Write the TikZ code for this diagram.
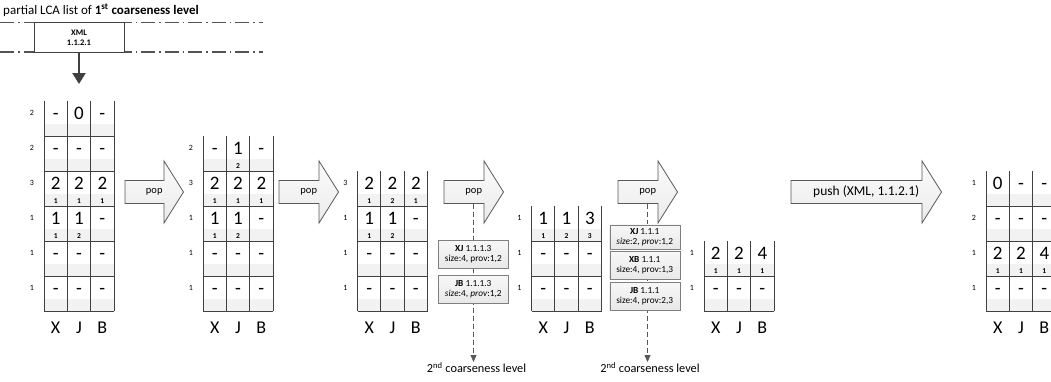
\documentclass[tikz,border=0pt]{standalone}
\usepackage{fontspec}
\setmainfont{Carlito}
\usetikzlibrary{positioning,arrows.meta}
\definecolor{gridgray}{RGB}{64,64,64}
\definecolor{bandgray}{RGB}{242,242,242}
\definecolor{boxgray}{RGB}{127,127,127}
\definecolor{arrowgray}{RGB}{89,89,89}
\tikzset{
  grid line/.style={draw=gridgray, line width=0.9pt},
  band/.style={fill=bandgray},
  row label/.style={font=\fontsize{8}{9}\selectfont, inner sep=0pt, anchor=base},
  cell value/.style={font=\fontsize{19}{20}\selectfont, inner sep=0pt, anchor=base},
  cell sub/.style={font=\fontsize{7.5}{8}\selectfont\bfseries, inner sep=0pt, anchor=base},
  col name/.style={font=\fontsize{18}{20}\selectfont, inner sep=0pt, anchor=base},
  lca box/.style={
    draw=boxgray, top color=gray!6, bottom color=gray!18,
    minimum width=70pt, minimum height=28pt, inner sep=1pt,
    align=center, font=\fontsize{9.3}{10}\selectfont,
  },
  fat arrow/.style={draw=arrowgray, line width=0.8pt, top color=gray!3, bottom color=gray!16},
  arrow text/.style={font=\fontsize{10.5}{11}\selectfont, inner sep=0pt},
  level line/.style={draw=arrowgray, line width=0.8pt, dash pattern=on 5pt off 3pt,
    -{Triangle[length=7pt,width=6pt]}},
  level text/.style={font=\fontsize{12.3}{14}\selectfont, anchor=north, inner sep=0pt},
  list border/.style={draw=gridgray!90, line width=1.2pt,
    dash pattern=on 14pt off 4pt on 1.5pt off 4pt},
}

% one stack: name, left x, top y, number of rows, rows as label/v/s/v/s/v/s
\newcommand{\lcastack}[5]{%
  \foreach \lab/\va/\sa/\vb/\sb/\vc/\sc [count=\r] in {#5} {
    \pgfmathsetmacro{\rowtop}{#3+35*(\r-1)}
    \fill[band] (#2,\rowtop+23) rectangle ++(70,12);
    \node[row label] (#1-lab\r) at (#2-12,\rowtop+14.5) {\lab};
    \node[cell value] (#1-\r-x) at (#2+11.67,\rowtop+18.5) {\va};
    \node[cell value] (#1-\r-j) at (#2+35,\rowtop+18.5) {\vb};
    \node[cell value] (#1-\r-b) at (#2+58.33,\rowtop+18.5) {\vc};
    \node[cell sub] (#1-\r-xs) at (#2+11.67,\rowtop+32) {\sa};
    \node[cell sub] (#1-\r-js) at (#2+35,\rowtop+32) {\sb};
    \node[cell sub] (#1-\r-bs) at (#2+58.33,\rowtop+32) {\sc};
    \draw[grid line] (#2,\rowtop+35) -- ++(70,0);
  }
  \pgfmathsetmacro{\stackbot}{#3+35*#4}
  \foreach \c in {0,1,2,3}
    \draw[grid line] (#2+23.33*\c,#3) -- (#2+23.33*\c,\stackbot);
  \node[col name] (#1-X) at (#2+11.67,\stackbot+22) {X};
  \node[col name] (#1-J) at (#2+35,\stackbot+22) {J};
  \node[col name] (#1-B) at (#2+58.33,\stackbot+22) {B};
}

% block arrow: name, left x, middle y, body length, text
\newcommand{\blockarrow}[5]{%
  \draw[fat arrow] (#2,#3-11.5) -- ++(#4,0) -- ++(0,-19.5) -- ++(19.5,31)
    -- ++(-19.5,31) -- ++(0,-19.5) -- ++(-#4,0) -- cycle;
  \node[arrow text] (#1) at (#2+#4/2+9.75,#3) {#5};
}

\begin{document}
\begin{tikzpicture}[x=1pt,y=-1pt]
  \useasboundingbox (0,0) rectangle (1051,381);
  \clip (0,0) rectangle (1051,381);

  \node[anchor=base west, inner sep=0pt, font=\fontsize{13}{14}\selectfont] (title) at (3,14)
    {partial LCA list of \textbf{1\textsuperscript{st} coarseness level}};
  \draw[list border] (0,22.7) -- (263,22.7);
  \draw[list border] (0,52) -- (263,52);
  \node[draw=gridgray, fill=white, minimum width=90pt, minimum height=29.5pt, inner sep=0pt,
    align=center, font=\fontsize{8.5}{10}\selectfont\bfseries] (xml) at (79,37.4) {XML\\1.1.2.1};
  \coordinate (stack-in) at (79,84);
  \draw[gridgray, line width=2.4pt, -{Triangle[length=11pt,width=13pt]}] (xml.south) -- (stack-in);

  \lcastack{s1}{44}{101}{6}{
    2/-/{}/0/{}/-/{}, 2/-/{}/-/{}/-/{}, 3/2/1/2/1/2/1,
    1/1/1/1/2/-/{}, 1/-/{}/-/{}/-/{}, 1/-/{}/-/{}/-/{}}
  \lcastack{s2}{203}{136}{5}{
    2/-/{}/1/2/-/{}, 3/2/1/2/1/2/1, 1/1/1/1/2/-/{},
    1/-/{}/-/{}/-/{}, 1/-/{}/-/{}/-/{}}
  \lcastack{s3}{357.5}{171}{4}{
    3/2/1/2/2/2/1, 1/1/1/1/2/-/{}, 1/-/{}/-/{}/-/{}, 1/-/{}/-/{}/-/{}}
  \lcastack{s4}{531.5}{206}{3}{
    1/1/1/1/2/3/3, 1/-/{}/-/{}/-/{}, 1/-/{}/-/{}/-/{}}
  \lcastack{s5}{704}{241}{2}{
    1/2/1/2/1/4/1, 1/-/{}/-/{}/-/{}}
  \lcastack{s6}{986}{171}{4}{
    1/0/{}/-/{}/-/{}, 2/-/{}/-/{}/-/{}, 1/2/1/2/1/4/1, 1/-/{}/-/{}/-/{}}

  % dashed drops to the 2nd level, under the boxes
  \node[level text] (lvl3) at (476.5,362) {2\textsuperscript{nd} coarseness level};
  \node[level text] (lvl4) at (650,362) {2\textsuperscript{nd} coarseness level};
  \coordinate (pop3-foot) at (473.5,203.5);
  \coordinate (pop4-foot) at (647.5,203.5);
  \draw[level line] (pop3-foot) -- (pop3-foot |- lvl3.north);
  \draw[level line] (pop4-foot) -- (pop4-foot |- lvl4.north);

  \blockarrow{pop1}{125}{192}{39}{pop}
  \blockarrow{pop2}{279}{192}{40}{pop}
  \blockarrow{pop3}{444}{192}{40}{pop}
  \blockarrow{pop4}{618}{192}{40}{pop}
  \blockarrow{push}{791}{192}{131}{\fontsize{13.5}{14}\selectfont push (XML, 1.1.2.1)}

  \node[lca box] (xj3) at (473.3,254) {\textbf{XJ} 1.1.1.3\\size:4, prov:1,2};
  \node[lca box, below=7pt of xj3] (jb3) {\textbf{JB} 1.1.1.3\\\textit{size}:4, \textit{prov}:1,2};

  \node[lca box, minimum height=24.5pt] (xj4) at (644.7,237) {\textbf{XJ} 1.1.1\\\textit{size}:2, \textit{prov}:1,2};
  \node[lca box, below=2pt of xj4] (xb4) {\textbf{XB} 1.1.1\\size:4, prov:1,3};
  \node[lca box, below=2pt of xb4] (jb4) {\textbf{JB} 1.1.1\\size:4, prov:2,3};
\end{tikzpicture}
\end{document}
